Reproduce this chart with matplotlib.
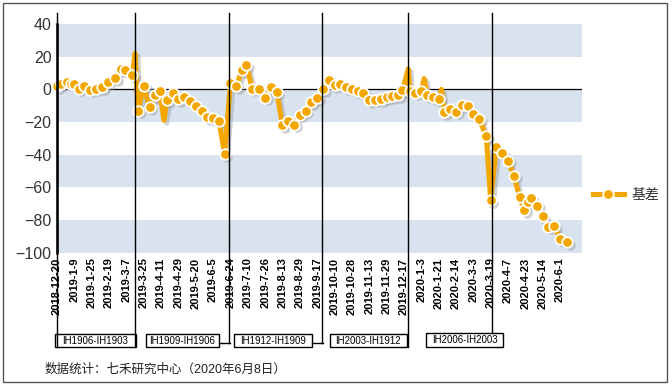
import matplotlib
matplotlib.use("Agg")
from matplotlib import pyplot as plt
from matplotlib import transforms
from matplotlib.patches import Rectangle
from matplotlib.lines import Line2D

plt.rcParams['font.family'] = ['Liberation Sans', 'Noto Sans CJK SC', 'DejaVu Sans']

# trading-day index counted from 2018-12-20
days = [0, 3, 7, 10, 12, 15, 19, 23, 27, 31, 35, 40, 44, 47, 52, 54, 56, 60, 64, 68,
        71, 74, 76, 80, 84, 88, 92, 96, 100, 104, 108, 112, 116, 120, 124, 128, 131, 135, 140, 144,
        148, 152, 156, 160, 164, 168, 172, 176, 180, 184, 188, 192, 196, 200, 204, 208, 212, 216, 220, 224,
        228, 232, 236, 239, 243, 244, 248, 252, 254, 256, 260, 264, 266, 268, 272, 276, 280, 284, 288, 292,
        297, 300, 304, 308, 312, 316, 320, 323, 326, 328, 332, 336, 340, 344, 348, 353]
basis = [2, 3.5, 4.3, 3.5, 3, 0.5, 1.8, -0.2, 0.4, 1.4, 4.5, 7, 12.5, 11.7, 8.6, 22, -13, 2, -11, -3.7,
         -1.2, -19, -6.7, -2.5, -6.2, -4.5, -7.2, -10, -13.5, -16.8, -17.4, -19.4, -39.5, 4.1, 2, 11.7, 15, 0.4, 0, -5,
         1.4, -1.8, -22, -19.3, -21.6, -15.5, -13, -8, -5.3, 0.2, 6, 2.8, 3, 1.2, 0.4, -1, -2, -6.7, -6.3, -5.8,
         -4.9, -4, -3.5, -0.6, 12.5, -0.8, -2, -1.3, 6.6, -3.4, -4.9, -6.2, 0, -14, -11.8, -13.6, -9.8, -10.4, -15, -18,
         -28.8, -67.8, -35.4, -38.8, -43.6, -52.8, -65.6, -74, -69, -66.5, -71.2, -77.5, -84, -83.5, -91.6, -93.5]
# spikes of the line that carry no marker
no_marker = [54, 74, 243, 254, 266]

tick_days = list(range(0, 349, 12))
tick_labels = ['2018-12-20', '2019-1-9', '2019-1-25', '2019-2-19', '2019-3-7', '2019-3-25',
               '2019-4-11', '2019-4-29', '2019-5-20', '2019-6-5', '2019-6-24', '2019-7-10',
               '2019-7-26', '2019-8-13', '2019-8-29', '2019-9-17', '2019-10-10', '2019-10-28',
               '2019-11-13', '2019-11-29', '2019-12-17', '2020-1-3', '2020-1-21', '2020-2-14',
               '2020-3-3', '2020-3-19', '2020-4-7', '2020-4-23', '2020-5-14', '2020-6-1']

# contract roll days (expiry) and the period labels
expiry_days = [0, 54, 119, 183, 243, 301]
periods = ['IH1906-IH1903', 'IH1909-IH1906', 'IH1912-IH1909', 'IH2003-IH1912', 'IH2006-IH2003']

W, H = 672, 385
ORANGE = '#F4A700'
BAND = '#D9E3EF'


def fx(x):
    return x / W


def fy(y):
    return 1 - y / H


fig = plt.figure(figsize=(6.72, 3.85), dpi=100)
ax = fig.add_axes([fx(57), fy(252.7), fx(581.7) - fx(57), fy(24) - fy(252.7)])
ax.set_xlim(0, 363)
ax.set_ylim(-100, 40)

for lo in [20, -20, -60, -100]:
    ax.axhspan(lo, lo + 20, color=BAND, lw=0, zorder=0)
ax.axhline(0, color='black', lw=0.9, zorder=1)

marks = [i for i, d in enumerate(days) if d not in no_marker]
shadow = ax.transData + transforms.ScaledTranslation(2 / 72, -2 / 72, fig.dpi_scale_trans)
ax.plot(days, basis, color='#9a9a9a', alpha=0.45, lw=3.6, marker='o', ms=7.6,
        markevery=marks, mec='none', transform=shadow, zorder=2, clip_on=False)
ax.plot(days, basis, color=ORANGE, lw=3.6, marker='o', ms=7.6, mfc=ORANGE,
        mec='white', mew=1.3, markevery=marks, zorder=3, clip_on=False, label='基差')

# vertical roll lines running past the axes
bottoms = [347, 347, 343, 343, 347, 333]
for d, b in zip(expiry_days, bottoms):
    ax.axvline(d, ymin=(252.7 - b) / 228.7, ymax=(252.7 - 13) / 228.7,
               color='black', lw=1, clip_on=False, zorder=4)

for s in ['top', 'right', 'bottom']:
    ax.spines[s].set_visible(False)
ax.spines['left'].set_linewidth(1.8)
ax.spines['left'].set_zorder(5)

ax.set_yticks(range(-100, 41, 20))
ax.tick_params(axis='y', length=0, pad=4, labelsize=11.5, labelcolor='#333333')
ax.set_xticks(tick_days)
ax.set_xticklabels(tick_labels, rotation=90, fontsize=8, fontweight='bold')
ax.tick_params(axis='x', length=0, pad=3.5)

# period boxes under the axis
boxes = [(55, 136, 334, 347), (146, 219, 334, 347), (234, 311.7, 334, 347),
         (330, 406.7, 334, 347), (425.7, 503.3, 333, 346.7)]
for name, (x0, x1, y0, y1) in zip(periods, boxes):
    fig.add_artist(Rectangle((fx(x0), fy(y1)), fx(x1) - fx(x0), fy(y0) - fy(y1),
                             transform=fig.transFigure, fill=False, ec='black', lw=1))
    fig.text(fx((x0 + x1) / 2), fy((y0 + y1) / 2), name, fontsize=7,
             ha='center', va='center')
for x0, x1 in [(219, 230), (311.7, 322.7)]:
    fig.add_artist(Line2D([fx(x0), fx(x1)], [fy(343), fy(343)],
                          transform=fig.transFigure, color='black', lw=1))

fig.text(fx(45), fy(370), '数据统计：七禾研究中心（2020年6月8日）', fontsize=9,
         ha='left', va='center', color='#222222')

fig.legend(loc='center left', bbox_to_anchor=(fx(593), fy(195)), frameon=False,
           borderpad=0, borderaxespad=0, handlelength=2.2, handletextpad=0.6,
           prop={'size': 10}, labelcolor='#333333')

fig.add_artist(Rectangle((fx(3), fy(382)), fx(667) - fx(3), fy(3) - fy(382),
                         transform=fig.transFigure, fill=False, ec='#555555', lw=1))

fig.savefig('out.png', dpi=100)
